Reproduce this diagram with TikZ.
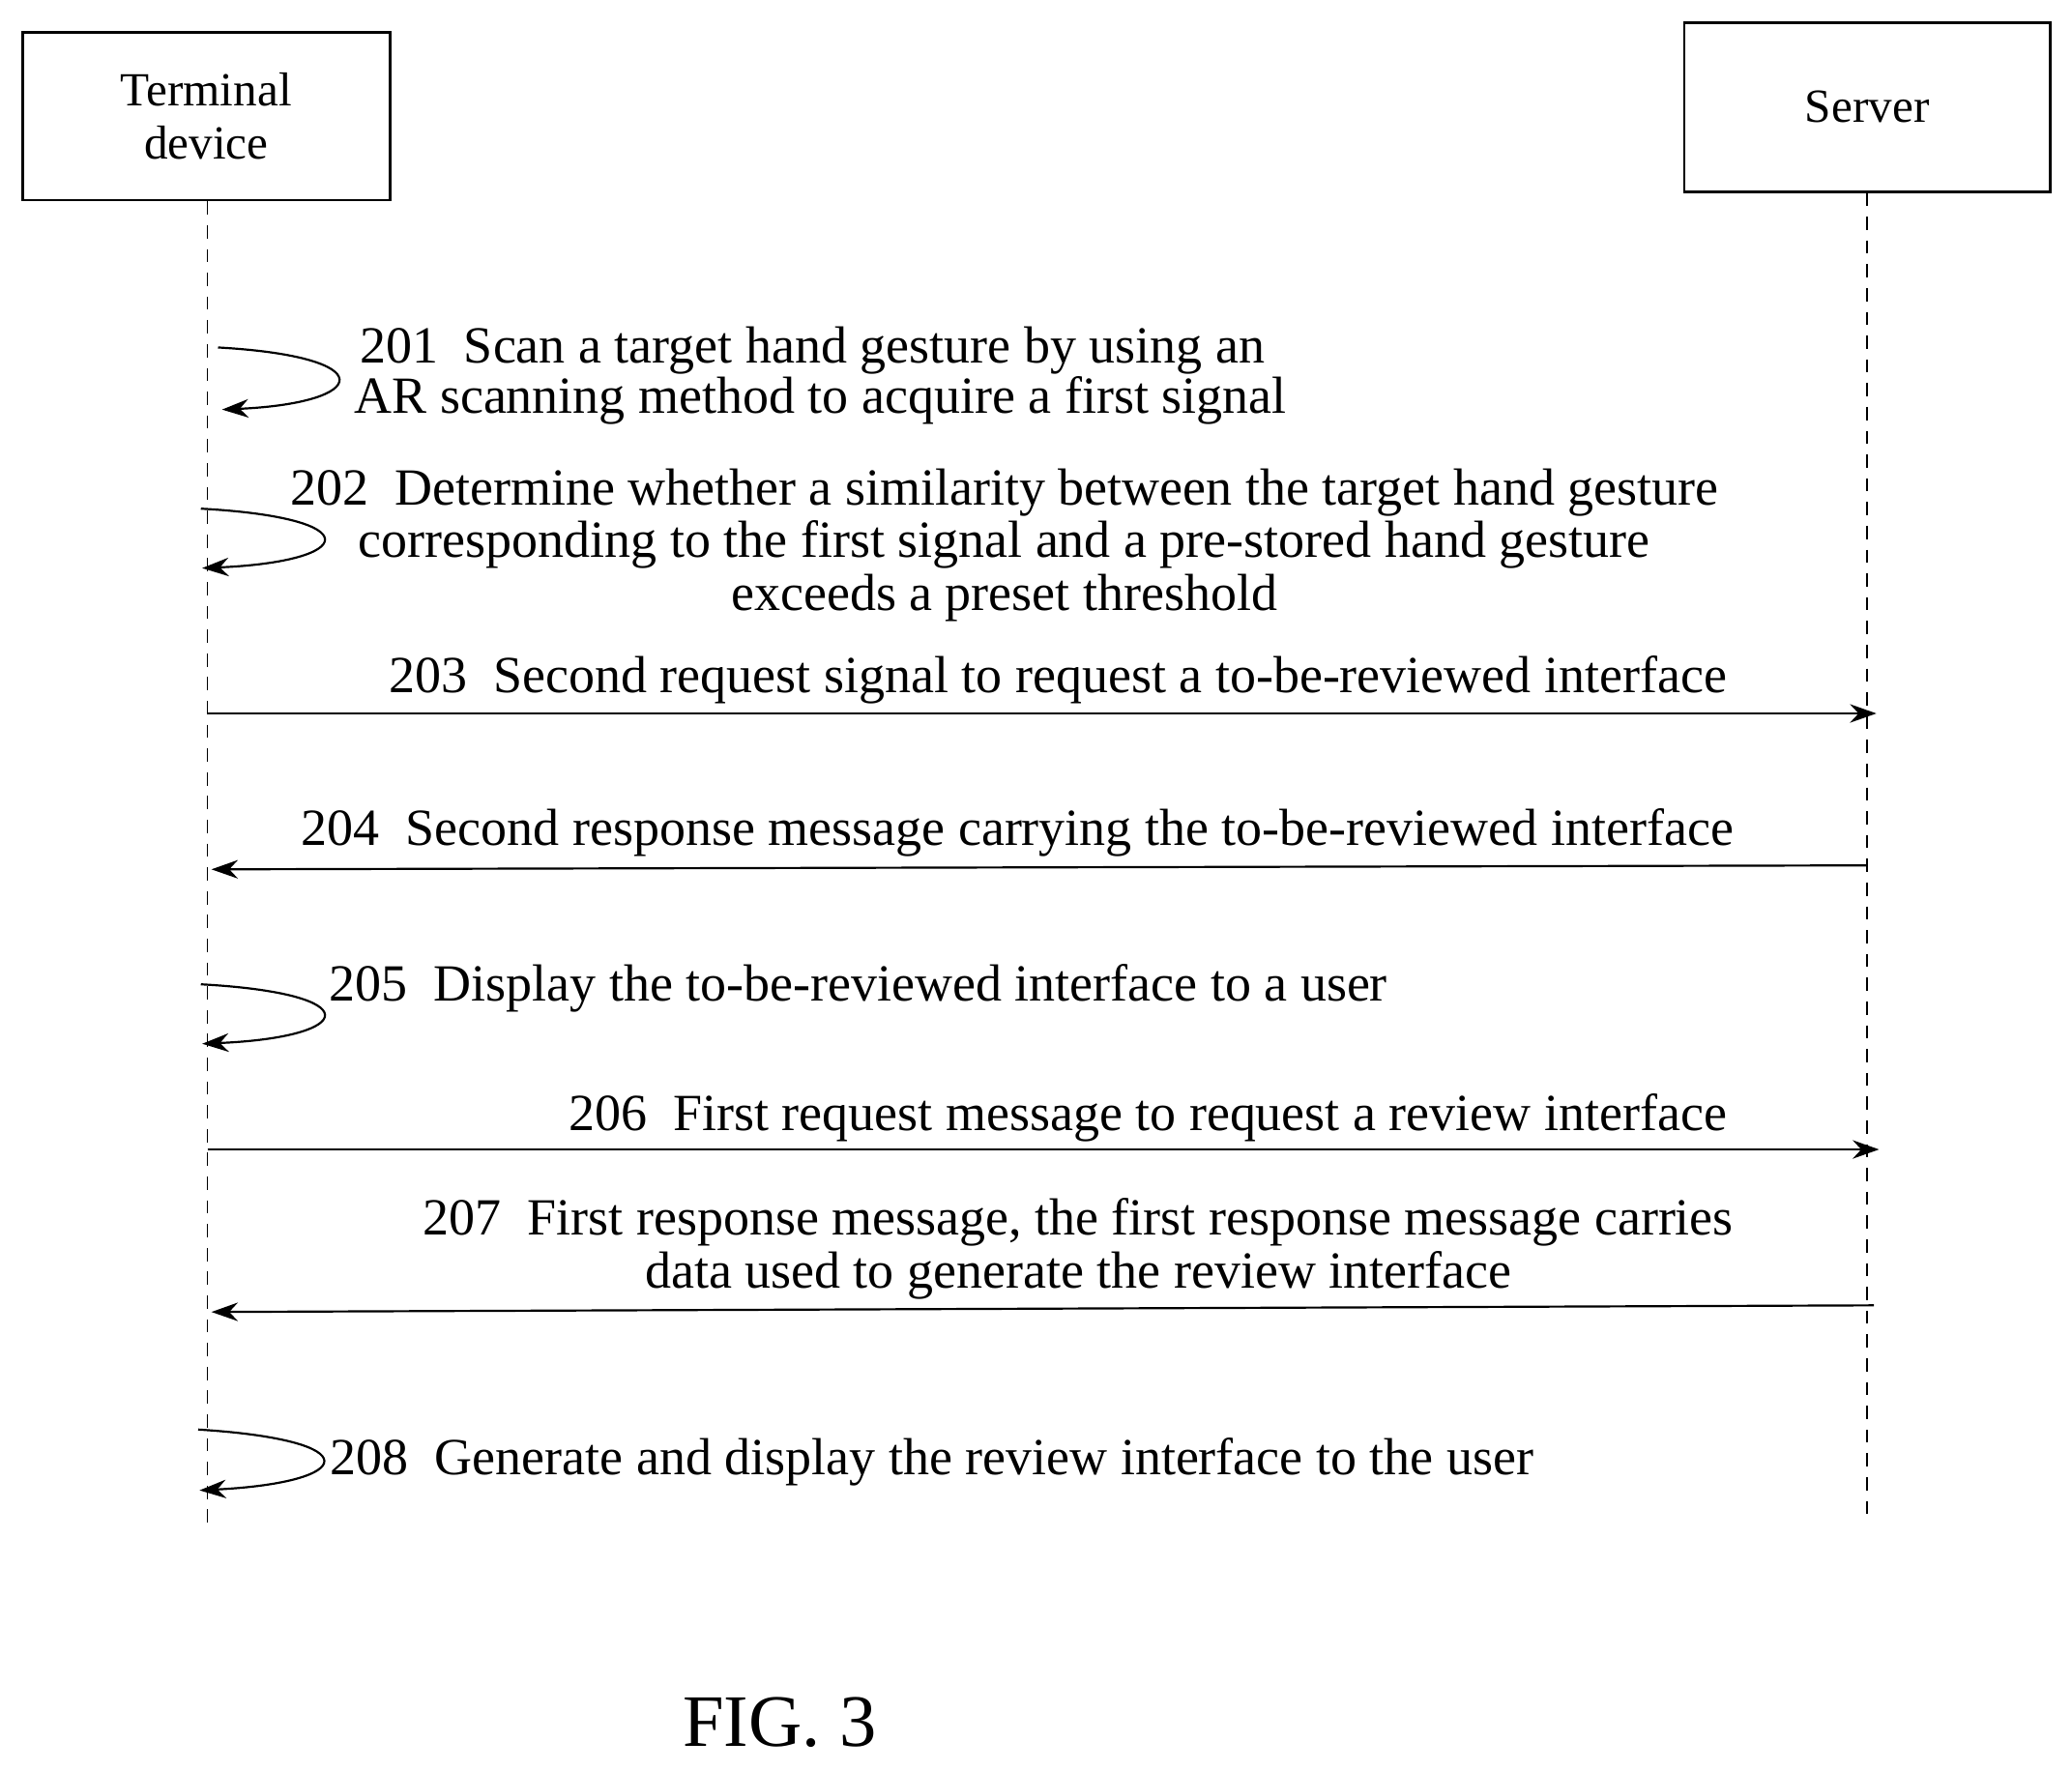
\documentclass[tikz,border=0pt]{standalone}
\usepackage{fontspec}
\setmainfont{Liberation Serif}
\usetikzlibrary{arrows.meta}
\begin{document}
\begin{tikzpicture}[x=1pt,y=-1pt,
  box/.style={draw,line width=2pt,inner sep=0pt,align=center,font=\fontsize{36}{40}\selectfont},
  life/.style={line width=1.2pt,dash pattern=on 10pt off 8pt},
  msg/.style={line width=1.6pt,-{Stealth[length=20pt,width=14pt]}},
  lbl/.style={font=\fontsize{39.5}{40}\selectfont,inner sep=0pt}]
\useasboundingbox (0,0) rectangle (1568,1340);
\node[box,minimum width=278pt,minimum height=127pt] (td) at (156,88) {Terminal\\device};
\node[box,minimum width=277pt,minimum height=128pt] (sv) at (1413,81) {Server};
\coordinate (tb) at (157,1160);
\coordinate (sb) at (1413,1150);
\draw[life] (td.south -| tb) -- (tb);
\draw[life] (sv.south) -- (sb);
% 201
\coordinate (a1) at (165,263); \coordinate (a2) at (168,310);
\draw[msg] (a1) .. controls (290,270) and (280,305) .. (a2);
\node[lbl,anchor=base west] (t201a) at (272,275) {201\enspace Scan a target hand gesture by using an};
\node[lbl,anchor=base west] (t201b) at (268,313) {AR scanning method to acquire a first signal};
% 202
\coordinate (b1) at (152,385); \coordinate (b2) at (153,430);
\draw[msg] (b1) .. controls (280,392) and (270,425) .. (b2);
\node[lbl,anchor=base,align=center] (t202) at (760,462) {202\enspace Determine whether a similarity between the target hand gesture\\corresponding to the first signal and a pre-stored hand gesture\\exceeds a preset threshold};
% 203
\coordinate (c1) at (157,540); \coordinate (c2) at (1420,540);
\draw[msg] (c1) -- (c2);
\node[lbl,anchor=base east] (t203) at (1307,524) {203\enspace Second request signal to request a to-be-reviewed interface};
% 204
\coordinate (d1) at (1413,655); \coordinate (d2) at (160,658);
\draw[msg] (d1) -- (d2);
\node[lbl,anchor=base east] (t204) at (1312,640) {204\enspace Second response message carrying the to-be-reviewed interface};
% 205
\coordinate (e1) at (152,745); \coordinate (e2) at (153,790);
\draw[msg] (e1) .. controls (280,752) and (270,785) .. (e2);
\node[lbl,anchor=base west] (t205) at (249,758) {205\enspace Display the to-be-reviewed interface to a user};
% 206
\coordinate (f1) at (157,870); \coordinate (f2) at (1422,870);
\draw[msg] (f1) -- (f2);
\node[lbl,anchor=base east] (t206) at (1307,856) {206\enspace First request message to request a review interface};
% 207
\coordinate (g1) at (1418,988); \coordinate (g2) at (160,993);
\draw[msg] (g1) -- (g2);
\node[lbl,anchor=base,align=center] (t207) at (816,975) {207\enspace First response message, the first response message carries\\data used to generate the review interface};
% 208
\coordinate (h1) at (150,1082); \coordinate (h2) at (151,1128);
\draw[msg] (h1) .. controls (280,1090) and (270,1122) .. (h2);
\node[lbl,anchor=base west] (t208) at (250,1116) {208\enspace Generate and display the review interface to the user};
\node[lbl,font=\fontsize{56}{60}\selectfont,anchor=base] (fig) at (590,1322) {FIG. 3};
\end{tikzpicture}
\end{document}
